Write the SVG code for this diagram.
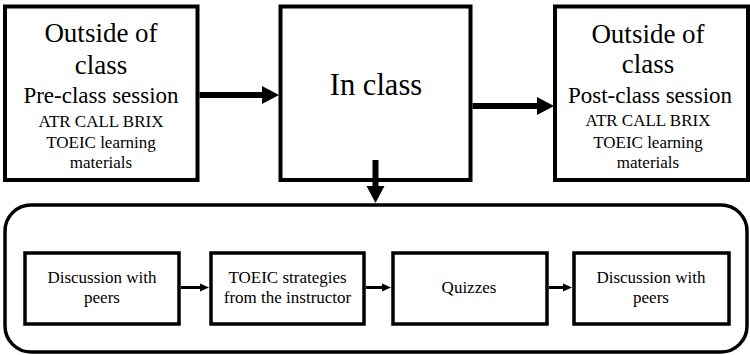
<svg xmlns="http://www.w3.org/2000/svg" width="750" height="355" viewBox="0 0 750 355">
<style>
.box{fill:#fff;stroke:#000;stroke-width:4}
.ibox{fill:#fff;stroke:#000;stroke-width:3.5}
text{font-family:'Liberation Serif','Times New Roman','DejaVu Serif',serif;fill:#000;text-anchor:middle}
.big{font-size:27px}
.mid{font-size:23px}
.sm{font-size:17px}
.thick{stroke:#000;stroke-width:6;fill:none}
.thin{stroke:#000;stroke-width:3;fill:none}
</style>
<defs>
<marker id="bigHead" markerUnits="userSpaceOnUse" markerWidth="17" markerHeight="18" refX="0" refY="9" orient="auto" overflow="visible">
<path d="M0,0 L17,9 L0,18 z" fill="#000"/>
</marker>
<marker id="smallHead" markerUnits="userSpaceOnUse" markerWidth="9" markerHeight="8" refX="0" refY="4" orient="auto" overflow="visible">
<path d="M0,0 L9,4 L0,8 z" fill="#000"/>
</marker>
</defs>
<rect width="750" height="355" fill="#fff"/>
<g font-family="Liberation Serif, Times New Roman, serif">
<g id="outer">
<rect x="5" y="205" width="742" height="147" rx="26" ry="26" fill="#fff" stroke="#000" stroke-width="3.5"/>
</g>
<g id="pre">
<rect class="box" x="5" y="6.5" width="192.5" height="173.5"/>
<text class="big" x="101" y="42">Outside of</text>
<text class="big" x="101" y="74">class</text>
<text class="mid" x="101" y="103">Pre-class session</text>
<text class="sm" x="101" y="127">ATR CALL BRIX</text>
<text class="sm" x="101" y="148">TOEIC learning</text>
<text class="sm" x="101" y="168">materials</text>
</g>
<g id="inclass">
<rect class="box" x="280.5" y="6.5" width="190" height="173.5"/>
<text x="376" y="95" font-size="30.5">In class</text>
</g>
<g id="post">
<rect class="box" x="555" y="6.5" width="193" height="173.5"/>
<text class="big" x="648" y="43">Outside of</text>
<text class="big" x="648" y="73">class</text>
<text class="mid" x="650" y="103">Post-class session</text>
<text class="sm" x="648" y="126">ATR CALL BRIX</text>
<text class="sm" x="648" y="148">TOEIC learning</text>
<text class="sm" x="648" y="168">materials</text>
</g>
<g id="disc1">
<rect class="ibox" x="25" y="253" width="154" height="71"/>
<text class="sm" x="102" y="283">Discussion with</text>
<text class="sm" x="102" y="303">peers</text>
</g>
<g id="strategies">
<rect class="ibox" x="211" y="253" width="153" height="71"/>
<text class="sm" x="287.5" y="283">TOEIC strategies</text>
<text class="sm" x="287.5" y="303">from the instructor</text>
</g>
<g id="quizzes">
<rect class="ibox" x="393" y="253" width="154" height="71"/>
<text class="sm" x="469" y="293">Quizzes</text>
</g>
<g id="disc2">
<rect class="ibox" x="574" y="253" width="155" height="71"/>
<text class="sm" x="651" y="283">Discussion with</text>
<text class="sm" x="651" y="303">peers</text>
</g>
</g>
<g id="connectors">
<line class="thick" x1="199.5" y1="95" x2="262" y2="95" marker-end="url(#bigHead)"/>
<line class="thick" x1="472.5" y1="106" x2="537" y2="106" marker-end="url(#bigHead)"/>
<line class="thick" x1="375.5" y1="160" x2="375.5" y2="186" marker-end="url(#bigHead)"/>
<line class="thin" x1="181" y1="287.5" x2="200" y2="287.5" marker-end="url(#smallHead)"/>
<line class="thin" x1="366" y1="287.5" x2="382" y2="287.5" marker-end="url(#smallHead)"/>
<line class="thin" x1="549" y1="287.5" x2="563" y2="287.5" marker-end="url(#smallHead)"/>
</g>
</svg>
